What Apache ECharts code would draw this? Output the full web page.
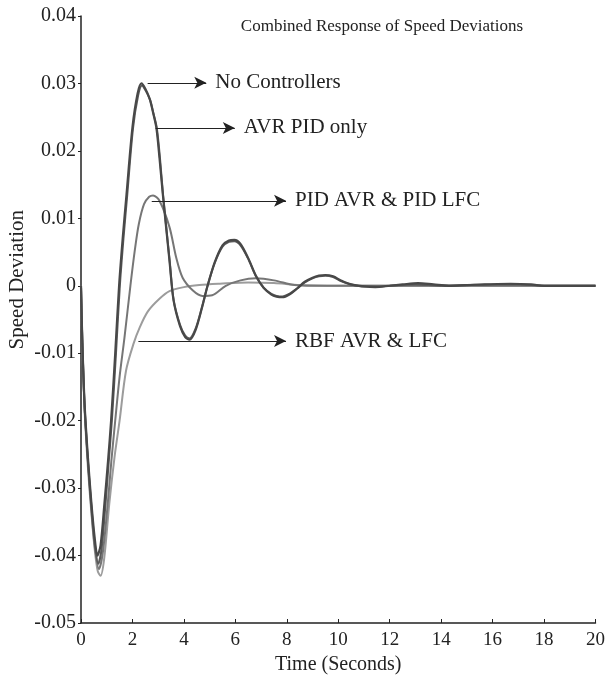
<!DOCTYPE html>
<html>
<head>
<meta charset="utf-8">
<script src="https://cdn.jsdelivr.net/npm/echarts@6/dist/echarts.min.js"></script>
<style>
    html, body { margin: 0; padding: 0; background: #fff; }
    #chart { width: 608px; height: 686px; }
</style>
</head>
<body>
<div id="chart"></div>
<script>
    // time (s) / speed deviation pairs
    var noCtrlT = [0, 0.05, 0.14, 0.27, 0.4, 0.53, 0.64, 0.76, 0.91, 1.05, 1.17, 1.33, 1.48, 1.62, 1.77, 2.0, 2.2, 2.35, 2.5, 2.67, 2.8, 2.93, 3.05, 3.18, 3.44, 3.6, 3.85, 4.05, 4.22, 4.45, 4.7, 4.92, 5.2, 5.5, 5.75, 5.96, 6.2, 6.5, 6.8, 7.1, 7.4, 7.6, 7.83, 8.1, 8.4, 8.7, 9.0, 9.25, 9.5, 9.8, 10.1, 10.5, 11.0, 11.44, 12.0, 12.5, 13.1, 13.7, 14.3, 15.0, 15.7, 16.7, 17.5, 18.0, 19.0, 20];
    var noCtrlV = [0, -0.008, -0.0175, -0.0255, -0.032, -0.0373, -0.0400, -0.0385, -0.0323, -0.026, -0.020, -0.010, 0, 0.007, 0.0136, 0.0235, 0.0285, 0.0300, 0.0292, 0.0277, 0.0257, 0.0234, 0.019, 0.0136, 0.0037, -0.0022, -0.006, -0.0076, -0.0080, -0.0066, -0.0033, 0, 0.0035, 0.006, 0.0067, 0.0068, 0.0062, 0.0041, 0.0015, -0.0003, -0.0013, -0.0016, -0.0017, -0.0013, -0.0004, 0.0006, 0.0012, 0.0015, 0.0016, 0.0014, 0.0008, 0.0002, -0.0001, -0.0002, 0, 0.0002, 0.0004, 0.0002, 0, 0.0001, 0.0002, 0.0003, 0.0002, 0, 0, 0];

    var avrPidT = [0, 0.05, 0.14, 0.27, 0.4, 0.53, 0.67, 0.8, 0.95, 1.08, 1.2, 1.36, 1.51, 1.65, 1.8, 2.02, 2.22, 2.37, 2.52, 2.69, 2.82, 2.95, 3.07, 3.19, 3.45, 3.6, 3.85, 4.05, 4.22, 4.45, 4.7, 4.92, 5.2, 5.5, 5.75, 5.96, 6.2, 6.5, 6.8, 7.1, 7.4, 7.6, 7.83, 8.1, 8.4, 8.7, 9.0, 9.25, 9.5, 9.8, 10.1, 10.5, 11.0, 11.5, 12.0, 13.0, 14.0, 15.0, 16.0, 17.0, 18.0, 19.0, 20];
    var avrPidV = [0, -0.008, -0.0178, -0.026, -0.0325, -0.038, -0.0412, -0.039, -0.0325, -0.026, -0.020, -0.010, 0, 0.007, 0.0136, 0.0233, 0.0282, 0.0297, 0.0289, 0.0275, 0.0255, 0.0233, 0.0189, 0.0135, 0.0036, -0.0021, -0.0058, -0.0074, -0.0078, -0.0064, -0.0032, 0, 0.0034, 0.0058, 0.0065, 0.0066, 0.006, 0.004, 0.0014, -0.0003, -0.0012, -0.0015, -0.0016, -0.0012, -0.0004, 0.0005, 0.0011, 0.0014, 0.0015, 0.0013, 0.0007, 0.0002, -0.0001, -0.0001, 0, 0.0002, 0, 0.0001, 0.0002, 0.0002, 0, 0, 0];

    var pidT = [0, 0.05, 0.14, 0.27, 0.4, 0.53, 0.7, 0.85, 1.04, 1.18, 1.33, 1.5, 1.69, 1.92, 2.1, 2.25, 2.45, 2.65, 2.8, 3.05, 3.44, 3.7, 3.95, 4.35, 4.72, 5.1, 5.63, 6.2, 6.8, 7.5, 8.3, 9.0, 10.0, 12.0, 14.0, 16.0, 18.0, 20];
    var pidV = [0, -0.008, -0.018, -0.0262, -0.033, -0.0385, -0.0420, -0.0395, -0.0323, -0.026, -0.020, -0.0135, -0.0077, 0, 0.0055, 0.0092, 0.0121, 0.0132, 0.0134, 0.0126, 0.0087, 0.0042, 0.0012, -0.0007, -0.0015, -0.0014, 0, 0.0008, 0.0011, 0.0008, 0.0001, 0, 0, 0, 0, 0, 0, 0];

    var rbfT = [0, 0.05, 0.14, 0.27, 0.4, 0.53, 0.65, 0.76, 0.9, 1.1, 1.3, 1.5, 1.75, 2.05, 2.28, 2.6, 3.06, 3.44, 4.0, 4.6, 5.4, 6.5, 7.5, 8.5, 10.0, 12.0, 14.0, 16.0, 18.0, 20];
    var rbfV = [0, -0.0085, -0.0185, -0.027, -0.0335, -0.039, -0.0423, -0.0430, -0.0405, -0.0323, -0.0255, -0.020, -0.0126, -0.0085, -0.0062, -0.0038, -0.0019, -0.0008, -0.0002, 0.0001, 0.0003, 0.0005, 0.0004, 0.0001, 0, 0, 0, 0, 0, 0];

    var xTicks = [0, 2, 4, 6, 8, 10, 12, 14, 16, 18, 20];
    var yTicks = [-0.05, -0.04, -0.03, -0.02, -0.01, 0, 0.01, 0.02, 0.03, 0.04];

    // annotation arrows: [label, start t, tip t, level]
    var notes = [
        ['No Controllers', 2.59, 4.87, 0.0301],
        ['AVR PID only', 2.9, 5.98, 0.0234],
        ['PID AVR & PID LFC', 2.75, 7.97, 0.0126],
        ['RBF AVR & LFC', 2.23, 7.97, -0.0082]
    ];

    var serif = 'Liberation Serif';

    function pairs(t, v) {
        return t.map(function (x, i) { return [x, v[i]]; });
    }

    var arrowLines = notes.map(function (n) {
        return [
            {coord: [n[1], n[3]]},
            {coord: [n[2], n[3]], label: {formatter: n[0]}}
        ];
    });

    var chart = echarts.init(document.getElementById('chart'), null, {renderer: 'canvas'});

    var option = {
        animation: false,
        backgroundColor: '#fff',
        title: {
            text: 'Combined Response of Speed Deviations',
            left: 377,
            top: 13,
            textAlign: 'center',
            textStyle: {fontFamily: serif, fontWeight: 'normal', fontSize: 17, color: '#222'}
        },
        graphic: [{
            type: 'text',
            left: 7,
            top: 210,
            rotation: Math.PI / 2,
            style: {
                text: 'Speed Deviation',
                font: '21px "Liberation Serif"',
                fill: '#222'
            }
        }],
        grid: {left: 81, right: 10, top: 16, bottom: 63},
        xAxis: {
            type: 'value',
            min: 0,
            max: 20,
            interval: 2,
            name: 'Time (Seconds)',
            nameLocation: 'middle',
            nameGap: 26,
            nameTextStyle: {fontFamily: serif, fontSize: 20, color: '#222'},
            axisLine: {onZero: false, lineStyle: {color: '#222', width: 1.5}},
            axisTick: {inside: true, length: 4, lineStyle: {color: '#222'}},
            axisLabel: {
                fontFamily: serif, fontSize: 19, color: '#222', margin: 8,
                formatter: function (v) { return xTicks.indexOf(v) >= 0 ? String(v) : ''; }
            },
            splitLine: {show: false}
        },
        yAxis: {
            type: 'value',
            min: -0.05,
            max: 0.04,
            interval: 0.01,
            axisLine: {show: true, lineStyle: {color: '#222', width: 1.5}},
            axisTick: {show: true, length: 3, lineStyle: {color: '#222'}},
            axisLabel: {
                fontFamily: serif, fontSize: 20, color: '#222', margin: 5,
                formatter: function (v) {
                    var r = Math.round(v * 100) / 100;
                    return r === 0 ? '0' : r.toFixed(2);
                }
            },
            splitLine: {show: false}
        },
        series: [{
            name: 'RBF AVR & LFC',
            type: 'line',
            data: pairs(rbfT, rbfV),
            smooth: 0.3,
            showSymbol: false,
            lineStyle: {color: '#9c9c9c', width: 2}
        }, {
            name: 'PID AVR & PID LFC',
            type: 'line',
            data: pairs(pidT, pidV),
            smooth: 0.3,
            showSymbol: false,
            lineStyle: {color: '#767676', width: 2}
        }, {
            name: 'AVR PID only',
            type: 'line',
            data: pairs(avrPidT, avrPidV),
            smooth: 0.3,
            showSymbol: false,
            lineStyle: {color: '#5a5a5a', width: 2}
        }, {
            name: 'No Controllers',
            type: 'line',
            data: pairs(noCtrlT, noCtrlV),
            smooth: 0.3,
            showSymbol: false,
            lineStyle: {color: '#484848', width: 2.2},
            markLine: {
                silent: true,
                symbol: ['none', 'arrow'],
                symbolSize: [9, 12],
                lineStyle: {color: '#222', width: 1, type: 'solid'},
                label: {
                    show: true,
                    position: 'end',
                    distance: 9,
                    fontFamily: serif,
                    fontSize: 21,
                    color: '#222'
                },
                data: arrowLines
            }
        }]
    };

    chart.setOption(option);
</script>
</body>
</html>
